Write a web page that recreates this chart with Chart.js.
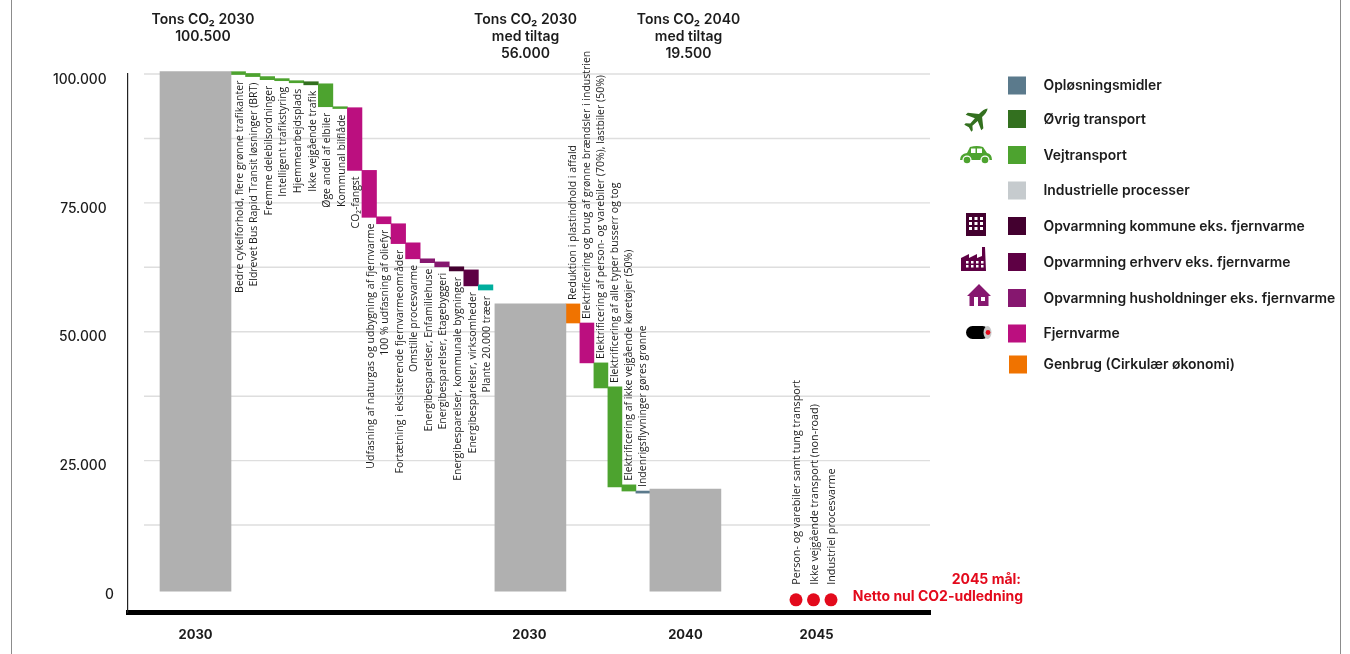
<!DOCTYPE html>
<html>
<head>
<meta charset="utf-8">
<title>Tons CO2</title>
<script src="https://cdn.jsdelivr.net/npm/chart.js@4/dist/chart.umd.min.js"></script>
<style>
  html, body { margin: 0; padding: 0; background: #fff; overflow: hidden; }
  canvas { display: block; }
</style>
</head>
<body>
<canvas id="co2Chart" width="1350" height="654"></canvas>
<script>
// Data (tons CO2)
const yGridValues = [12500, 25000, 37500, 50000, 62500, 75000, 87500, 100000];
const yTickValues = [0, 25000, 50000, 75000, 100000];
const yTickLabels = ["0", "25.000", "50.000", "75.000", "100.000"];
const xTickLabels = ["2030", "2030", "2040", "2045"];

const totalLow = [-300, -300, -300];
const totalHigh = [100450, 55400, 19500];

const measuresA = [
  "Bedre cykelforhold, flere grønne trafikanter",
  "Eldrevet Bus Rapid Transit løsninger (BRT)",
  "Fremme delebilsordninger",
  "Intelligent trafikstyring",
  "Hjemmearbejdsplads",
  "Ikke vejgående trafik",
  "Øge andel af elbiler",
  "Kommunal bilflåde",
  "CO₂-fangst",
  "Udfasning af naturgas og udbygning af fjernvarme",
  "100 % udfasning af oliefyr",
  "Fortætning i eksisterende fjernvarmeområder",
  "Omstille procesvarme",
  "Energibesparelser, Enfamiliehuse",
  "Energibesparelser, Etagebyggeri",
  "Energibesparelser, kommunale bygninger",
  "Energibesparelser, virksomheder",
  "Plante 20.000 træer",
];
const measuresALow = [99900, 99500, 98900, 98700, 98300, 97900, 93650, 93300, 81300, 72200, 70950, 67100, 64150, 63400, 62600, 61800, 58900, 58100];
const measuresAHigh = [100450, 100100, 99500, 99100, 98700, 98500, 98100, 93650, 93460, 81300, 72300, 70950, 67250, 64150, 63550, 62600, 62000, 59100];
const measuresASector = ["road", "road", "road", "road", "road", "other", "road", "road", "district", "district", "district", "district", "district", "homes", "homes", "municipal", "business", "forest"];

const measuresB = [
  "Reduktion i plastindhold i affald",
  "Elektrificering og brug af grønne brændsler i industrien",
  "Elektrificering af person- og varebiler (70%), lastbiler (50%)",
  "Elektrificering af alle typer busserr og tog",
  "Elektrificering af ikke vejgående køretøjer (50%)",
  "Indenrigsflyvninger gøres grønne",
];
const measuresBLow = [51700, 43960, 39100, 19900, 19100, 18700];
const measuresBHigh = [55400, 51700, 43960, 39300, 20300, 19100];
const measuresBSector = ["recycling", "district", "road", "road", "road", "solvents"];

const goalLabels = [
  "Person- og varebiler samt tung transport",
  "Ikke vejgående transport (non-road)",
  "Industriel procesvarme",
];
const goalValues = [-2000, -2000, -2000];

const headers = [
  ["Tons CO₂ 2030", "100.500"],
  ["Tons CO₂ 2030", "med tiltag", "56.000"],
  ["Tons CO₂ 2040", "med tiltag", "19.500"],
];

const legendLabels = [
  "Opløsningsmidler",
  "Øvrig transport",
  "Vejtransport",
  "Industrielle processer",
  "Opvarmning kommune eks. fjernvarme",
  "Opvarmning erhverv eks. fjernvarme",
  "Opvarmning husholdninger eks. fjernvarme",
  "Fjernvarme",
  "Genbrug (Cirkulær økonomi)",
];
const legendSectors = ["solvents", "other", "road", "industry", "municipal", "business", "homes", "district", "recycling"];

// Colours
const SECTOR_COLORS = {
  solvents: "#5b7a8c",
  other: "#33701f",
  road: "#4da32f",
  industry: "#c6cbce",
  municipal: "#43002f",
  business: "#5e0044",
  homes: "#86176f",
  district: "#bb0f7f",
  recycling: "#f07300",
  forest: "#00ae9d",
};
const TOTAL_COLOR = "#b0b0b0";
const GOAL_COLOR = "#e30a1c";
const TEXT_COLOR = "#1c1c1c";
const HEAD_FONT = "Inter, sans-serif";
const BAR_LABEL_FONT = "10.5px 'Open Sans', sans-serif";
const GOAL_LABEL_FONT = "10.8px 'Open Sans', sans-serif";

// Layout: the x scale runs in plot pixels, positions follow from the order of the groups
const PLOT_WIDTH = 802;
const TOTAL_WIDTH = 71;
const STEP_A = 14.55;
const STEP_B = 14;
const GOAL_STEP = 17.5;

const total1Left = 32;
const stepsAStart = total1Left + TOTAL_WIDTH;
const total2Left = stepsAStart + STEP_A * measuresA.length + 2;
const stepsBStart = total2Left + TOTAL_WIDTH;
const total3Left = stepsBStart + STEP_B * measuresB.length;
const goalsStart = 668;

const totalX = [total1Left, total2Left, total3Left].map((left) => left + TOTAL_WIDTH / 2);
const stepsAX = measuresA.map((_, i) => stepsAStart + STEP_A * (i + 0.5));
const stepsBX = measuresB.map((_, i) => stepsBStart + STEP_B * (i + 0.5));
const goalsX = goalLabels.map((_, i) => goalsStart + GOAL_STEP * i);
const xTickValues = [totalX[0], totalX[1] - 1, totalX[2], goalsX[1] + 3];

function floatingBars(xs, lows, highs) {
  return xs.map((x, i) => ({ x: x, y: [lows[i], highs[i]] }));
}

function rotatedText(ctx, text, x, y, align) {
  ctx.save();
  ctx.translate(x, y);
  ctx.rotate(-Math.PI / 2);
  ctx.textAlign = align;
  ctx.textBaseline = "middle";
  ctx.fillText(text, 0, 0);
  ctx.restore();
}

// Gridlines start a little right of the axis line, so they are not the scale's own
const gridPlugin = {
  id: "insetGrid",
  beforeDatasetsDraw(chart) {
    const ctx = chart.ctx;
    const area = chart.chartArea;
    ctx.save();
    ctx.strokeStyle = "#dedede";
    ctx.lineWidth = 1.4;
    yGridValues.forEach((v) => {
      const y = chart.scales.y.getPixelForValue(v);
      ctx.beginPath();
      ctx.moveTo(area.left + 16, y);
      ctx.lineTo(area.right, y);
      ctx.stroke();
    });
    ctx.restore();
  },
};

// Rotated labels on the bars and the dots, read from the drawn elements
const markLabelPlugin = {
  id: "markLabels",
  afterDatasetsDraw(chart) {
    const ctx = chart.ctx;
    ctx.save();
    ctx.fillStyle = TEXT_COLOR;
    ctx.font = BAR_LABEL_FONT;
    chart.getDatasetMeta(1).data.forEach((bar, i) => {
      rotatedText(ctx, measuresA[i], bar.x + 1.5, bar.base + 6, "right");
    });
    chart.getDatasetMeta(2).data.forEach((bar, i) => {
      rotatedText(ctx, measuresB[i], bar.x + 0.5, bar.y - 4, "left");
    });
    ctx.font = GOAL_LABEL_FONT;
    chart.getDatasetMeta(3).data.forEach((dot, i) => {
      rotatedText(ctx, goalLabels[i], dot.x + 1, dot.y - 15, "left");
    });
    ctx.restore();
  },
};

function drawPlane(ctx, x, y, color) {
  ctx.save();
  ctx.translate(x, y);
  ctx.rotate(Math.PI / 4);
  ctx.fillStyle = color;
  ctx.beginPath();
  ctx.moveTo(0, -15);
  ctx.quadraticCurveTo(2.4, -12, 2.2, -5);
  ctx.lineTo(11, 2);
  ctx.lineTo(11, 5);
  ctx.lineTo(2, 1);
  ctx.lineTo(1.5, 8);
  ctx.lineTo(5, 11);
  ctx.lineTo(5, 13);
  ctx.lineTo(0, 11.5);
  ctx.lineTo(-5, 13);
  ctx.lineTo(-5, 11);
  ctx.lineTo(-1.5, 8);
  ctx.lineTo(-2, 1);
  ctx.lineTo(-11, 5);
  ctx.lineTo(-11, 2);
  ctx.lineTo(-2.2, -5);
  ctx.quadraticCurveTo(-2.4, -12, 0, -15);
  ctx.fill();
  ctx.restore();
}

function drawCar(ctx, x, y, color) {
  ctx.save();
  ctx.translate(x, y);
  ctx.fillStyle = color;
  ctx.beginPath();
  ctx.moveTo(-16, 5);
  ctx.quadraticCurveTo(-16, -1, -9, -2);
  ctx.lineTo(-6, -8);
  ctx.quadraticCurveTo(1, -10, 7, -8);
  ctx.lineTo(11, -2);
  ctx.quadraticCurveTo(16, -1, 16, 5);
  ctx.closePath();
  ctx.fill();
  ctx.fillStyle = "#fff";
  ctx.fillRect(-5, -6.5, 4.5, 4.5);
  ctx.fillRect(1, -6.5, 5, 4.5);
  [-9, 9].forEach((wx) => {
    ctx.fillStyle = "#fff";
    ctx.beginPath();
    ctx.arc(wx, 5, 4.6, 0, Math.PI * 2);
    ctx.fill();
    ctx.fillStyle = color;
    ctx.beginPath();
    ctx.arc(wx, 5, 3.3, 0, Math.PI * 2);
    ctx.fill();
  });
  ctx.restore();
}

function drawBuilding(ctx, x, y, color) {
  ctx.save();
  ctx.translate(x, y);
  ctx.fillStyle = color;
  ctx.fillRect(-10, -12, 20, 23);
  ctx.fillStyle = "#fff";
  [-7, -1.5, 4].forEach((wx) => {
    [-8, -3, 2].forEach((wy) => ctx.fillRect(wx, wy, 3, 3));
  });
  ctx.restore();
}

function drawFactory(ctx, x, y, color) {
  ctx.save();
  ctx.translate(x, y);
  ctx.fillStyle = color;
  ctx.beginPath();
  ctx.moveTo(-13, 10);
  ctx.lineTo(-13, -3);
  ctx.lineTo(-5, -7);
  ctx.lineTo(-5, -3);
  ctx.lineTo(3, -7);
  ctx.lineTo(3, -3);
  ctx.lineTo(8, -5);
  ctx.lineTo(8, -14);
  ctx.lineTo(11, -14);
  ctx.lineTo(12, 10);
  ctx.closePath();
  ctx.fill();
  ctx.fillStyle = "#fff";
  [-8, -3, 2, 7].forEach((wx) => {
    [0, 4].forEach((wy) => ctx.fillRect(wx, wy, 2.5, 2.5));
  });
  ctx.restore();
}

function drawHouse(ctx, x, y, color) {
  ctx.save();
  ctx.translate(x, y);
  ctx.fillStyle = color;
  ctx.beginPath();
  ctx.moveTo(0, -12);
  ctx.lineTo(12, 0);
  ctx.lineTo(9.5, 0);
  ctx.lineTo(9.5, 10);
  ctx.lineTo(-9.5, 10);
  ctx.lineTo(-9.5, 0);
  ctx.lineTo(-12, 0);
  ctx.closePath();
  ctx.fill();
  ctx.fillStyle = "#fff";
  ctx.fillRect(-5, 1, 4, 9);
  ctx.fillRect(2, 1, 4, 4);
  ctx.restore();
}

function drawPipe(ctx, x, y) {
  ctx.save();
  ctx.translate(x, y);
  ctx.fillStyle = "#000";
  ctx.beginPath();
  ctx.roundRect(-13, -6.5, 23, 13, 6.5);
  ctx.fill();
  ctx.fillStyle = "#c8c8c8";
  ctx.beginPath();
  ctx.ellipse(8.5, 0, 4, 6.5, 0, 0, Math.PI * 2);
  ctx.fill();
  ctx.fillStyle = GOAL_COLOR;
  ctx.beginPath();
  ctx.arc(9, 0, 2.4, 0, Math.PI * 2);
  ctx.fill();
  ctx.restore();
}

// Page frame, headers, legend and the 2045 note
const annotationPlugin = {
  id: "annotations",
  afterDraw(chart) {
    const ctx = chart.ctx;
    ctx.save();

    ctx.strokeStyle = "#8c8c8c";
    ctx.lineWidth = 1;
    [11.5, 1340.5].forEach((x) => {
      ctx.beginPath();
      ctx.moveTo(x, 0);
      ctx.lineTo(x, 654);
      ctx.stroke();
    });

    ctx.fillStyle = TEXT_COLOR;
    ctx.textAlign = "center";
    ctx.textBaseline = "middle";
    ctx.font = "600 14px " + HEAD_FONT;
    const headerX = [203, 525.5, 688.5];
    headers.forEach((lines, i) => {
      lines.forEach((line, j) => ctx.fillText(line, headerX[i], 19.5 + j * 17));
    });

    const rowY = [85.5, 119, 155, 190.5, 226, 262, 298, 333.5, 364.5];
    ctx.textAlign = "left";
    ctx.font = "600 13.9px " + HEAD_FONT;
    legendLabels.forEach((label, i) => {
      const nudge = i === legendLabels.length - 1 ? 1 : 0;
      ctx.fillStyle = SECTOR_COLORS[legendSectors[i]];
      ctx.fillRect(1008 + nudge, rowY[i] - 9, 18, 18);
      ctx.fillStyle = TEXT_COLOR;
      ctx.fillText(label, 1043.5, rowY[i] + 0.8);
    });

    drawPlane(ctx, 977, 119, SECTOR_COLORS.other);
    drawCar(ctx, 976, 155, SECTOR_COLORS.road);
    drawBuilding(ctx, 976, 225, SECTOR_COLORS.municipal);
    drawFactory(ctx, 974, 261, SECTOR_COLORS.business);
    drawHouse(ctx, 979, 296, SECTOR_COLORS.homes);
    drawPipe(ctx, 979, 332.5);

    ctx.fillStyle = GOAL_COLOR;
    ctx.textAlign = "right";
    ctx.font = "700 14px " + HEAD_FONT;
    ctx.fillText("2045 mål:", 1021, 580);
    ctx.fillText("Netto nul CO2-udledning", 1023, 597);

    ctx.restore();
  },
};

new Chart(document.getElementById("co2Chart"), {
  type: "bar",
  data: {
    datasets: [
      {
        data: floatingBars(totalX, totalLow, totalHigh),
        backgroundColor: TOTAL_COLOR,
        barThickness: TOTAL_WIDTH,
        clip: false,
      },
      {
        data: floatingBars(stepsAX, measuresALow, measuresAHigh),
        backgroundColor: measuresASector.map((s) => SECTOR_COLORS[s]),
        barThickness: STEP_A,
        clip: false,
      },
      {
        data: floatingBars(stepsBX, measuresBLow, measuresBHigh),
        backgroundColor: measuresBSector.map((s) => SECTOR_COLORS[s]),
        barThickness: STEP_B,
        clip: false,
      },
      {
        type: "line",
        showLine: false,
        data: goalsX.map((x, i) => ({ x: x, y: goalValues[i] })),
        pointRadius: 6.5,
        pointBackgroundColor: GOAL_COLOR,
        pointBorderWidth: 0,
        clip: false,
      },
    ],
  },
  options: {
    responsive: false,
    animation: false,
    grouped: false,
    layout: { padding: { top: 74, right: 420, left: 0, bottom: 0 } },
    plugins: { legend: { display: false }, tooltip: { enabled: false } },
    scales: {
      x: {
        type: "linear",
        offset: false,
        min: 0,
        max: PLOT_WIDTH,
        grid: { display: false, drawTicks: false },
        border: { display: true, color: "#000", width: 5 },
        afterBuildTicks(scale) {
          scale.ticks = xTickValues.map((v) => ({ value: v }));
        },
        afterFit(scale) {
          scale.height = 41.3;
          scale.paddingLeft = 0;
          scale.paddingRight = 0;
        },
        ticks: {
          autoSkip: false,
          maxRotation: 0,
          padding: 15,
          color: TEXT_COLOR,
          font: { family: HEAD_FONT, size: 13, weight: "700" },
          callback(value) {
            return xTickLabels[xTickValues.indexOf(value)];
          },
        },
      },
      y: {
        min: -4500,
        max: 100000,
        grid: { display: false, drawTicks: false },
        border: { display: true, color: "#222", width: 1.2 },
        afterBuildTicks(scale) {
          scale.ticks = [0].concat(yGridValues).map((v) => ({ value: v }));
        },
        afterFit(scale) {
          scale.width = 128;
          scale.paddingTop = 0;
          scale.paddingBottom = 0;
        },
        ticks: {
          autoSkip: false,
          padding: 14,
          labelOffset: 5.5,
          color: TEXT_COLOR,
          font: { family: HEAD_FONT, size: 13.8, weight: "500" },
          callback(value) {
            const i = yTickValues.indexOf(value);
            if (i < 0) return "";
            // only the zero sits close to the axis
            return value === 0 ? yTickLabels[i] : yTickLabels[i] + "\u00a0\u00a0";
          },
        },
      },
    },
  },
  plugins: [gridPlugin, markLabelPlugin, annotationPlugin],
});
</script>
</body>
</html>
